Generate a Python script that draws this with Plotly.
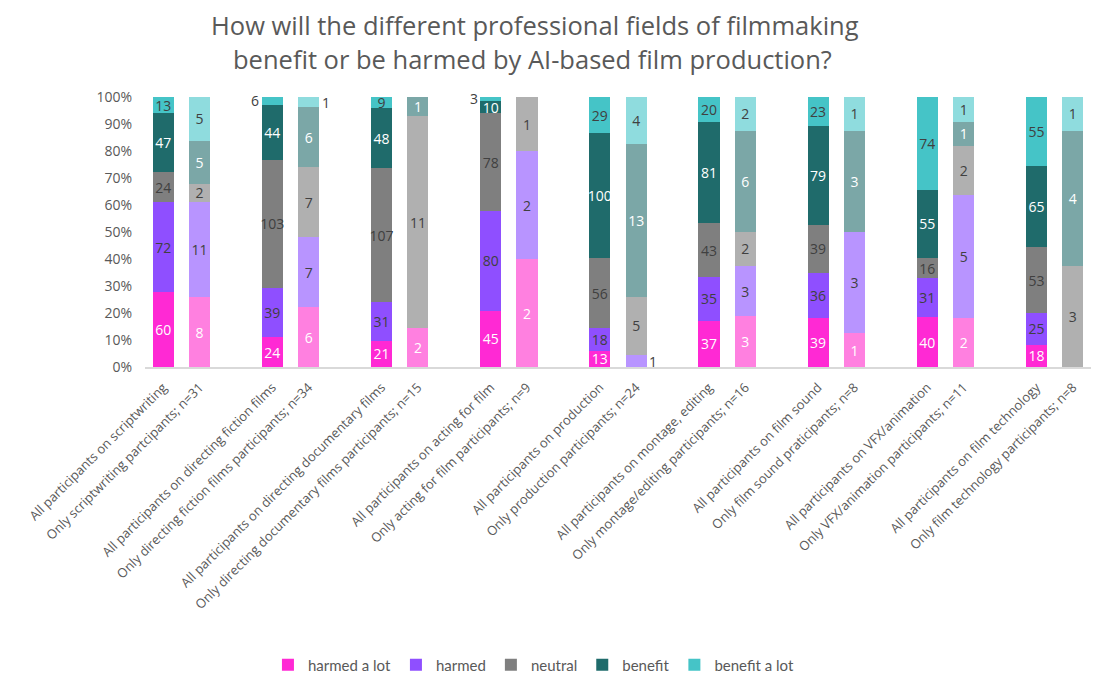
import plotly.graph_objects as go

categories = [
    "All participants on scriptwriting",
    "Only scriptwriting partcipants; n=31",
    "All participants on directing fiction films",
    "Only directing fiction films participants; n=34",
    "All participants on directing documentary films",
    "Only directing documentary films participants; n=15",
    "All participants on acting for film",
    "Only acting for film participants; n=9",
    "All participants on production",
    "Only production participants; n=24",
    "All participants on montage, editing",
    "Only montage/editing participants; n=16",
    "All participants on film sound",
    "Only film sound praticipants; n=8",
    "All participants on VFX/animation",
    "Only VFX/animation participants; n=11",
    "All participants on film technology",
    "Only film technology participants; n=8",
]

series_names = ["harmed a lot", "harmed", "neutral", "benefit", "benefit a lot"]

harmed_a_lot = [60, 8, 24, 6, 21, 2, 45, 2, 13, 0, 37, 3, 39, 1, 40, 2, 18, 0]
harmed       = [72, 11, 39, 7, 31, 0, 80, 2, 18, 1, 35, 3, 36, 3, 31, 5, 25, 0]
neutral      = [24, 2, 103, 7, 107, 11, 78, 1, 56, 5, 43, 2, 39, 0, 16, 2, 53, 3]
benefit      = [47, 5, 44, 6, 48, 1, 10, 0, 100, 13, 81, 6, 79, 3, 55, 1, 65, 4]
benefit_lot  = [13, 5, 6, 1, 9, 0, 3, 0, 29, 4, 20, 2, 23, 1, 74, 1, 55, 1]

series_values = [harmed_a_lot, harmed, neutral, benefit, benefit_lot]

title_lines = [
    "How will the different professional fields of filmmaking",
    "benefit or be harmed by AI-based film production?",
]

dark_colors  = ["#FF29D4", "#8F4FFF", "#7F7F7F", "#1F6B6B", "#45C4C7"]
light_colors = ["#FF80E0", "#B894FF", "#B0B0B0", "#7BA7A7", "#8FDCDE"]
text_dark    = ["#FFFFFF", "#404040", "#404040", "#FFFFFF", "#404040"]
text_light   = ["#FFFFFF", "#404040", "#404040", "#FFFFFF", "#404040"]

# labels placed outside bars (bar index, series index, side)
outside_labels = [(2, 4, "left"), (3, 4, "right"), (6, 4, "left"), (9, 1, "right")]

n = len(categories)
positions = [3 * (i // 2) + (i % 2) for i in range(n)]
totals = [sum(s[i] for s in series_values) for i in range(n)]

LABEL_FONT = "Open Sans"

fig = go.Figure()
for si, (name, vals) in enumerate(zip(series_names, series_values)):
    pct = [v / totals[i] * 100 for i, v in enumerate(vals)]
    colors = [dark_colors[si] if i % 2 == 0 else light_colors[si] for i in range(n)]
    tcolors = [text_dark[si] if i % 2 == 0 else text_light[si] for i in range(n)]
    texts = []
    for i, v in enumerate(vals):
        if v == 0 or any(b == i and s == si for b, s, _ in outside_labels):
            texts.append("")
        else:
            texts.append(str(v))
    fig.add_trace(go.Bar(
        name=name, x=positions, y=pct, width=0.58,
        marker=dict(color=colors, line=dict(width=0)),
        text=texts, textposition="inside", insidetextanchor="middle",
        constraintext="none", textangle=0,
        textfont=dict(color=tcolors, size=14, family=LABEL_FONT),
        hoverinfo="skip",
    ))

for b, s, side in outside_labels:
    lower = sum(series_values[k][b] for k in range(s)) / totals[b] * 100
    upper = lower + series_values[s][b] / totals[b] * 100
    ymid = (lower + upper) / 2
    fig.add_annotation(
        x=positions[b], y=ymid, xref="x", yref="y",
        text=str(series_values[s][b]), showarrow=False,
        xanchor="right" if side == "left" else "left",
        xshift=-11 if side == "left" else 11,
        font=dict(size=14, color="#404040", family=LABEL_FONT),
    )

# title, two lines (paper coords: plot spans y 97..367 px, x 145..1091 px)
for line, (ypx, xpx) in zip(title_lines, [(25, 535), (59, 532)]):
    fig.add_annotation(
        text=line, showarrow=False,
        xref="paper", yref="paper",
        x=(xpx - 145) / 946, y=(367 - ypx) / 270,
        xanchor="center", yanchor="middle",
        font=dict(size=25.5, color="#595959", family="Open Sans"),
    )

fig.update_layout(
    width=1116, height=673,
    barmode="stack",
    plot_bgcolor="white", paper_bgcolor="white",
    margin=dict(l=145, r=25, t=97, b=306),
    font=dict(family=LABEL_FONT, color="#595959"),
    legend=dict(
        orientation="h", x=0.478, xanchor="center", xref="container",
        y=0.012, yanchor="middle", yref="container",
        font=dict(size=15, color="#595959", family="Lato"), traceorder="normal",
        itemwidth=30,
    ),
    showlegend=True,
)
fig.update_xaxes(
    tickvals=positions, ticktext=categories, tickangle=-45,
    range=[-0.5, positions[-1] + 0.5],
    showline=True, linecolor="#D9D9D9", linewidth=1.5,
    showgrid=False, zeroline=False, ticks="", ticklabelstandoff=6,
    tickfont=dict(size=13, color="#595959", family=LABEL_FONT),
)
fig.update_yaxes(
    range=[0, 100], dtick=10, ticksuffix="%",
    showgrid=False, zeroline=False, showline=False, ticks="",
    ticklabelstandoff=12,
    tickfont=dict(size=14, color="#595959", family=LABEL_FONT),
)

fig.write_html("out.html")
